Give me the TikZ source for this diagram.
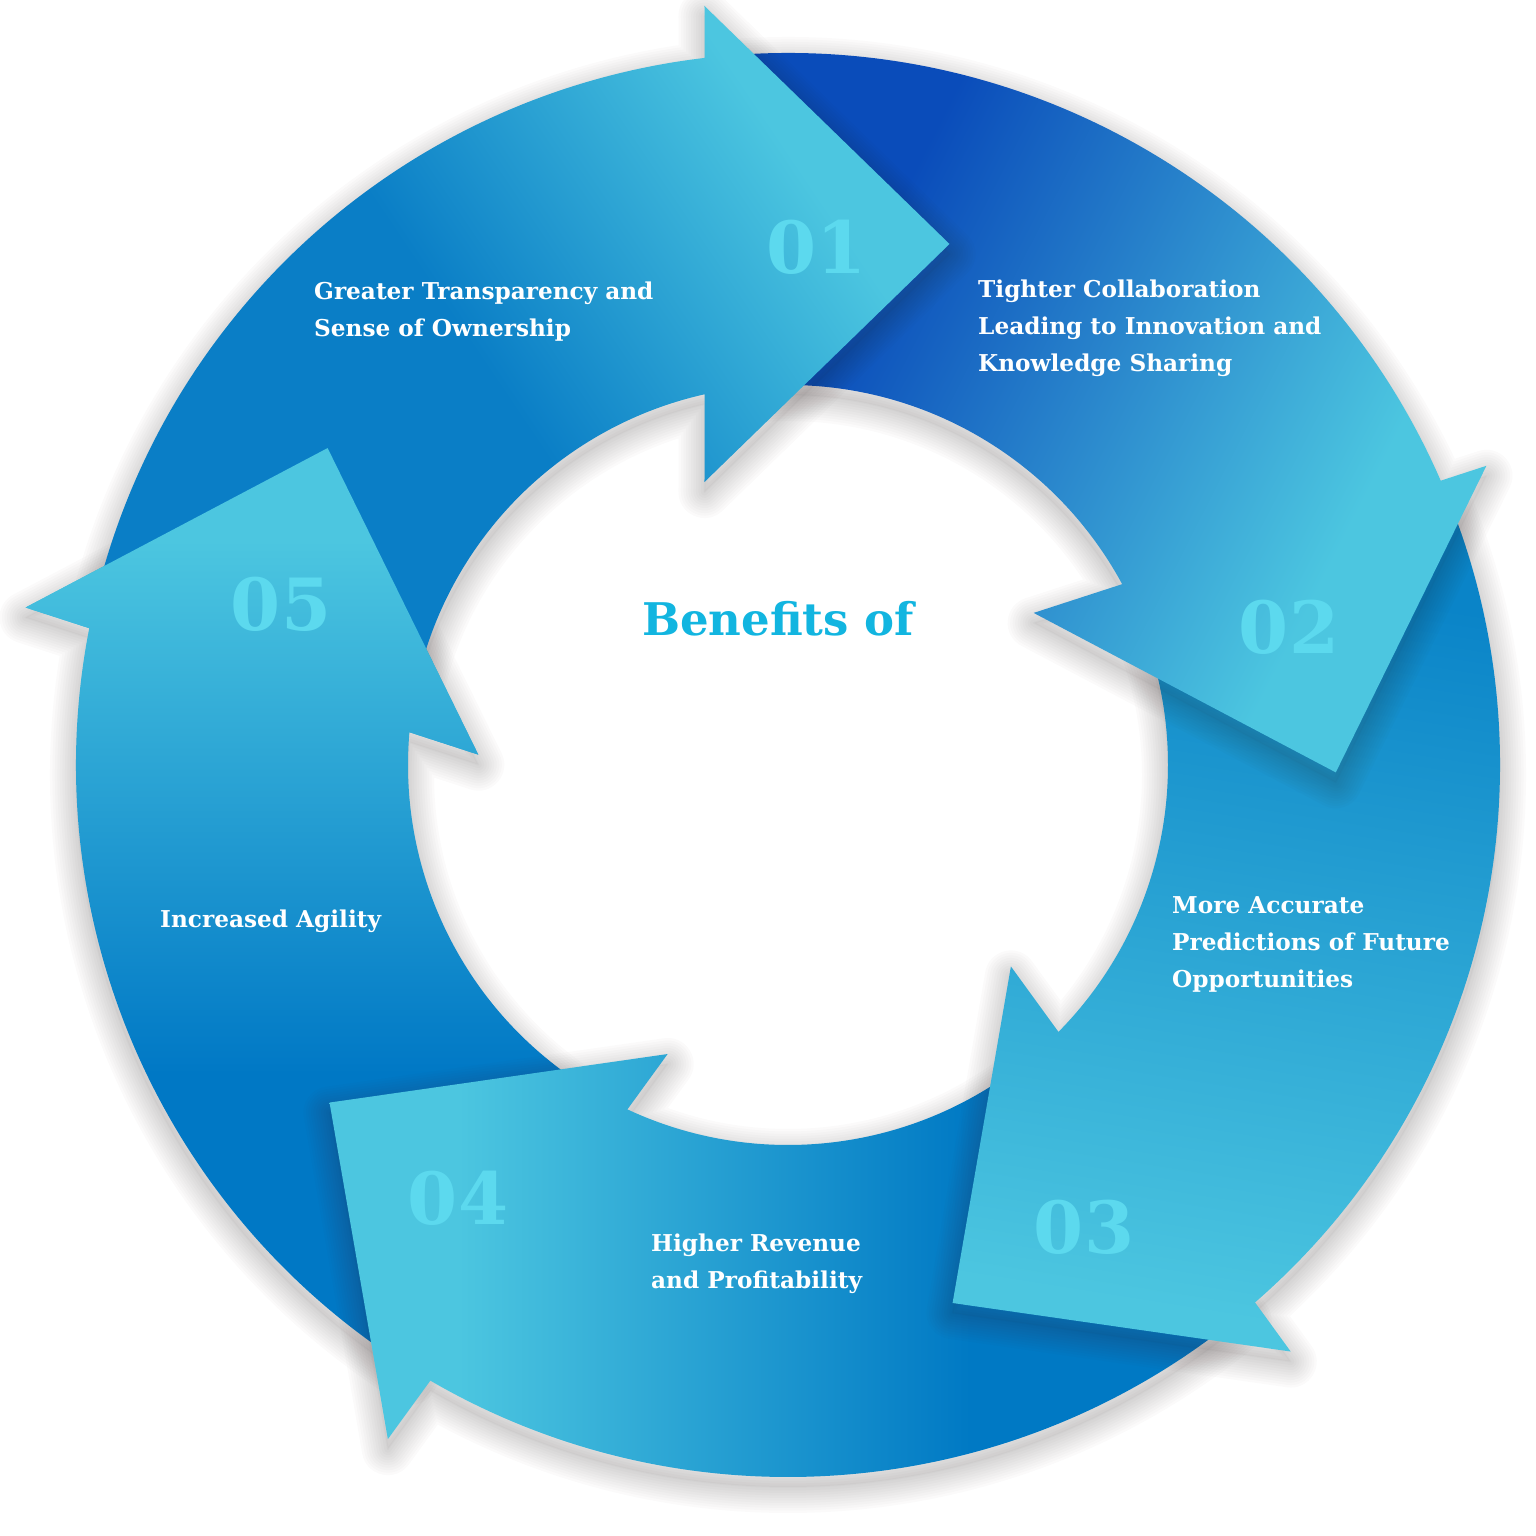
\documentclass[tikz,border=0pt]{standalone}
\usepackage{fontspec}
\setmainfont{DejaVu Serif}

\definecolor{cyanL}{HTML}{4CC6E0}
\definecolor{darkA}{HTML}{0A7EC6}
\definecolor{darkB}{HTML}{0A4CBA}
\definecolor{darkC}{HTML}{0A84C8}
\definecolor{darkD}{HTML}{0079C4}
\definecolor{darkE}{HTML}{0078C5}
\definecolor{numcol}{HTML}{5CD9EE}
\definecolor{titlecol}{HTML}{12B5E0}
\definecolor{shadowcol}{HTML}{3A2E2E}

% one shading per arrow, dark tail -> light head
\pgfdeclarehorizontalshading{shadeA}{100bp}{color(0bp)=(darkA); color(47bp)=(darkA); color(71bp)=(cyanL); color(100bp)=(cyanL)}
\pgfdeclarehorizontalshading{shadeB}{100bp}{color(0bp)=(darkB); color(31bp)=(darkB); color(68bp)=(cyanL); color(100bp)=(cyanL)}
\pgfdeclarehorizontalshading{shadeC}{100bp}{color(0bp)=(darkC); color(29bp)=(darkC); color(74bp)=(cyanL); color(100bp)=(cyanL)}
\pgfdeclarehorizontalshading{shadeD}{100bp}{color(0bp)=(darkD); color(40bp)=(darkD); color(68bp)=(cyanL); color(100bp)=(cyanL)}
\pgfdeclarehorizontalshading{shadeE}{100bp}{color(0bp)=(darkE); color(41bp)=(darkE); color(70bp)=(cyanL); color(100bp)=(cyanL)}

% geometry of arrow #1 (0 = arrow 01), in its own rotated frame
\newcommand{\arrowgeom}[1]{%
  \pgfmathsetmacro\tx{-9*cos(72*#1)+9*sin(72*#1)}%
  \pgfmathsetmacro\ty{-9*sin(72*#1)-9*cos(72*#1)}%
  \pgfmathsetmacro\bx{-74.5+\tx}%
  \pgfmathsetmacro\my{530+\ty}%
  \pgfmathsetmacro\ao{acos(\bx/712)}%
  \pgfmathsetmacro\ai{acos(\bx/380)}%
}
\newcommand{\arrowpath}{(166:712) arc[start angle=166, end angle=\ao, radius=712] -- (\bx,\my+238) -- (\bx+245,\my) -- (\bx,\my-238) -- (\ai:380) arc[start angle=\ai, end angle=166, radius=380] -- cycle}
\newcommand{\headpath}{(\bx,\my+238) -- (\bx+245,\my) -- (\bx,\my-238) -- cycle}

\begin{document}
\begin{tikzpicture}[x = 1pt, y = 1pt,
    shadowline/.style = {draw = shadowcol, opacity = .02, line join = round},
    benefit/.style = {text = white, font = \fontsize{23.2}{37}\selectfont\bfseries, align = left, anchor = north west, inner sep = 0pt},
    numtext/.style = {text = numcol, font = \fontsize{72}{72}\selectfont\bfseries, anchor = base, inner sep = 0pt}]
\useasboundingbox (-788,-771) rectangle (748,765);
\fill[white] (-788,-771) rectangle (748,765);

% ring of arrows, back to front
\foreach \idx/\shd/\ang in {4/shadeE/90, 3/shadeD/180, 2/shadeC/-99, 1/shadeB/-27, 0/shadeA/34} {
  \arrowgeom{\idx}
  \begin{scope}[shift = {(0,-10)}, rotate = -72*\idx] % soft shadow
    \foreach \w in {52,47,...,2}
      \path[shadowline, line width = \w pt] \arrowpath;
    \fill[shadowcol, opacity = .03] \arrowpath;
  \end{scope}
  \shade[rotate = -72*\idx, shading = \shd, shading angle = \ang] \arrowpath;
}

% head of 05 lies over the tail of 01
\arrowgeom{4}
\begin{scope}[rotate = -288]
  \clip \headpath;
  \shade[shading = shadeE, shading angle = 90] \arrowpath;
\end{scope}

\node[numtext] (n1) at (28.5,491) {01};
\node[numtext] (n2) at (501,111) {02};
\node[numtext] (n3) at (296,-488) {03};
\node[numtext] (n4) at (-330,-459) {04};
\node[numtext] (n5) at (-507,134) {05};

\node[benefit] (b1) at (-474,483) {Greater Transparency and\\Sense of Ownership};
\node[benefit] (b2) at (190,485) {Tighter Collaboration\\Leading to Innovation and\\Knowledge Sharing};
\node[benefit] (b3) at (384,-131) {More Accurate\\Predictions of Future\\Opportunities};
\node[benefit] (b4) at (-137,-469) {Higher Revenue\\and Profitability};
\node[benefit] (b5) at (-628,-145) {Increased Agility};

\node[anchor = base west, inner sep = 0pt, text = titlecol, font = \fontsize{45}{45}\selectfont\bfseries] (title) at (-146,129) {Benefits of};
\end{tikzpicture}
\end{document}
